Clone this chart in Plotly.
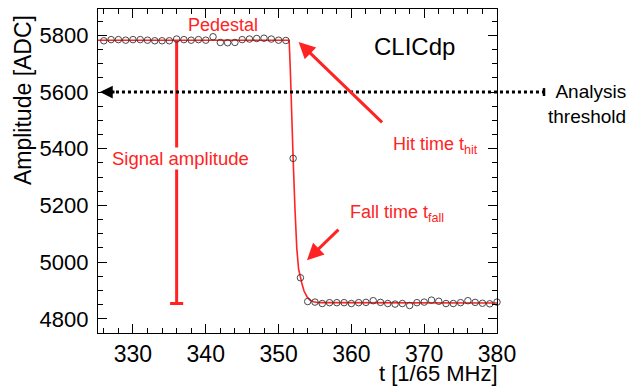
import plotly.graph_objects as go

# ---- data ----
t_ped = list(range(326, 352))
amp_ped = [5781, 5785, 5785, 5783, 5785, 5785, 5783, 5781, 5781, 5781,
           5787, 5785, 5783, 5785, 5783, 5795, 5775, 5774, 5775, 5785,
           5787, 5789, 5790, 5787, 5783, 5782]
t_fall = [352, 353]
amp_fall = [5366, 4945]
t_base = list(range(354, 381))
amp_base = [4861, 4859, 4854, 4857, 4857, 4857, 4854, 4857, 4858, 4864,
            4858, 4854, 4852, 4854, 4847, 4857, 4859, 4866, 4862, 4854,
            4854, 4857, 4864, 4858, 4855, 4853, 4859]

fit_t = [325.2, 351.45, 351.6, 351.75, 352.0, 352.25, 352.5, 352.75, 353.0,
         353.25, 353.5, 353.9, 354.3, 354.8, 355.5, 380.0]
fit_amp = [5783, 5783, 5690, 5540, 5366, 5190, 5050, 4975, 4945,
           4920, 4898, 4878, 4866, 4860, 4857, 4856]

pedestal = 5783
baseline = 4854
sig_t = 336.0
cap_half = 0.9
threshold = 5600

x_range = [325.2, 380.0]
y_range = [4750, 5893]

RED = "#ff2323"
FONT = "Liberation Sans"

samples_t = t_ped + t_fall + t_base
samples_a = amp_ped + amp_fall + amp_base

fig = go.Figure()

# signal amplitude bar
fig.add_trace(go.Scatter(
    x=[sig_t, sig_t, None, sig_t - cap_half, sig_t + cap_half],
    y=[pedestal, baseline, None, baseline, baseline],
    mode="lines", line=dict(color=RED, width=3), hoverinfo="skip"))

# fit curve
fig.add_trace(go.Scatter(x=fit_t, y=fit_amp, mode="lines",
                         line=dict(color=RED, width=1.6), hoverinfo="skip"))

# samples
fig.add_trace(go.Scatter(x=samples_t, y=samples_a, mode="markers",
                         marker=dict(symbol="circle-open", size=6.5,
                                     color="#333333", line=dict(width=0.9)),
                         cliponaxis=False))

# threshold dotted line (extends beyond plot)
fig.add_shape(type="line", xref="paper", yref="y",
              x0=0.03, x1=1.1178, y0=threshold, y1=threshold,
              line=dict(color="black", width=3, dash="dot"))
fig.add_shape(type="line", xref="paper", yref="y",
              x0=1.1178, x1=1.1178, y0=threshold - 14, y1=threshold + 14,
              line=dict(color="black", width=2.5))

ann = []
# threshold arrow head
ann.append(dict(x=0.005, y=threshold, xref="paper", yref="y", text="",
                showarrow=True, ax=16, ay=0, arrowhead=2, arrowsize=0.85,
                arrowwidth=3, arrowcolor="black", standoff=0))
# hit time arrow
ann.append(dict(x=352.75, y=5777, xref="x", yref="y", text="",
                showarrow=True, ax=85, ay=82, arrowhead=2, arrowsize=1.1,
                arrowwidth=3, arrowcolor=RED, standoff=0))
# fall time arrow
ann.append(dict(x=353.9, y=5007, xref="x", yref="y", text="",
                showarrow=True, ax=33, ay=-32, arrowhead=2, arrowsize=1.1,
                arrowwidth=3, arrowcolor=RED, standoff=0))

ann.append(dict(x=342.4, y=5836, xref="x", yref="y", text="Pedestal",
                showarrow=False, font=dict(family=FONT, size=18, color=RED)))
ann.append(dict(x=368.6, y=5759, xref="x", yref="y", text="CLICdp",
                showarrow=False, font=dict(family=FONT, size=24, color="black")))
ann.append(dict(x=365.4, y=5410, xref="x", yref="y", xanchor="left",
                text="Hit time t<sub>hit</sub>",
                showarrow=False, font=dict(family=FONT, size=18, color=RED)))
ann.append(dict(x=359.6, y=5172, xref="x", yref="y", xanchor="left",
                text="Fall time t<sub>fall</sub>",
                showarrow=False, font=dict(family=FONT, size=18, color=RED)))
ann.append(dict(x=336.55, y=5367, xref="x", yref="y",
                text="Signal amplitude", bgcolor="white", borderpad=0,
                showarrow=False, font=dict(family=FONT, size=18.5, color=RED)))
ann.append(dict(x=1.328, y=0.708, xref="paper", yref="paper",
                xanchor="right", yanchor="middle", align="right",
                text="Analysis<br>threshold", showarrow=False,
                font=dict(family=FONT, size=19, color="black")))
# axis titles
ann.append(dict(x=1.0075, y=-0.1235, xref="paper", yref="paper",
                xanchor="right", yanchor="middle", text="t [1/65 MHz]",
                showarrow=False, font=dict(family=FONT, size=22, color="black")))
ann.append(dict(x=-0.188, y=0.719, xref="paper", yref="paper",
                xanchor="center", yanchor="middle", textangle=-90,
                text="Amplitude [ADC]", showarrow=False,
                font=dict(family=FONT, size=23, color="black")))

axis_common = dict(showgrid=False, zeroline=False, showline=True,
                   linecolor="black", linewidth=1.3, mirror="ticks",
                   ticks="inside", ticklen=9, tickwidth=1.2, tickcolor="black")

fig.update_layout(
    width=640, height=392,
    margin=dict(l=98, r=143, t=9, b=59),
    paper_bgcolor="white", plot_bgcolor="white",
    showlegend=False,
    annotations=ann,
    xaxis=dict(range=x_range, tick0=330, dtick=10,
               tickfont=dict(family=FONT, size=23, color="black"),
               minor=dict(dtick=2, ticks="inside", ticklen=4.5,
                          tickwidth=1, tickcolor="black"),
               **axis_common),
    yaxis=dict(range=y_range, tick0=4800, dtick=200,
               tickfont=dict(family=FONT, size=22, color="black"),
               ticklabelstandoff=4,
               minor=dict(dtick=50, ticks="inside", ticklen=4.5,
                          tickwidth=1, tickcolor="black"),
               **axis_common),
)

fig.write_html("out.html")
